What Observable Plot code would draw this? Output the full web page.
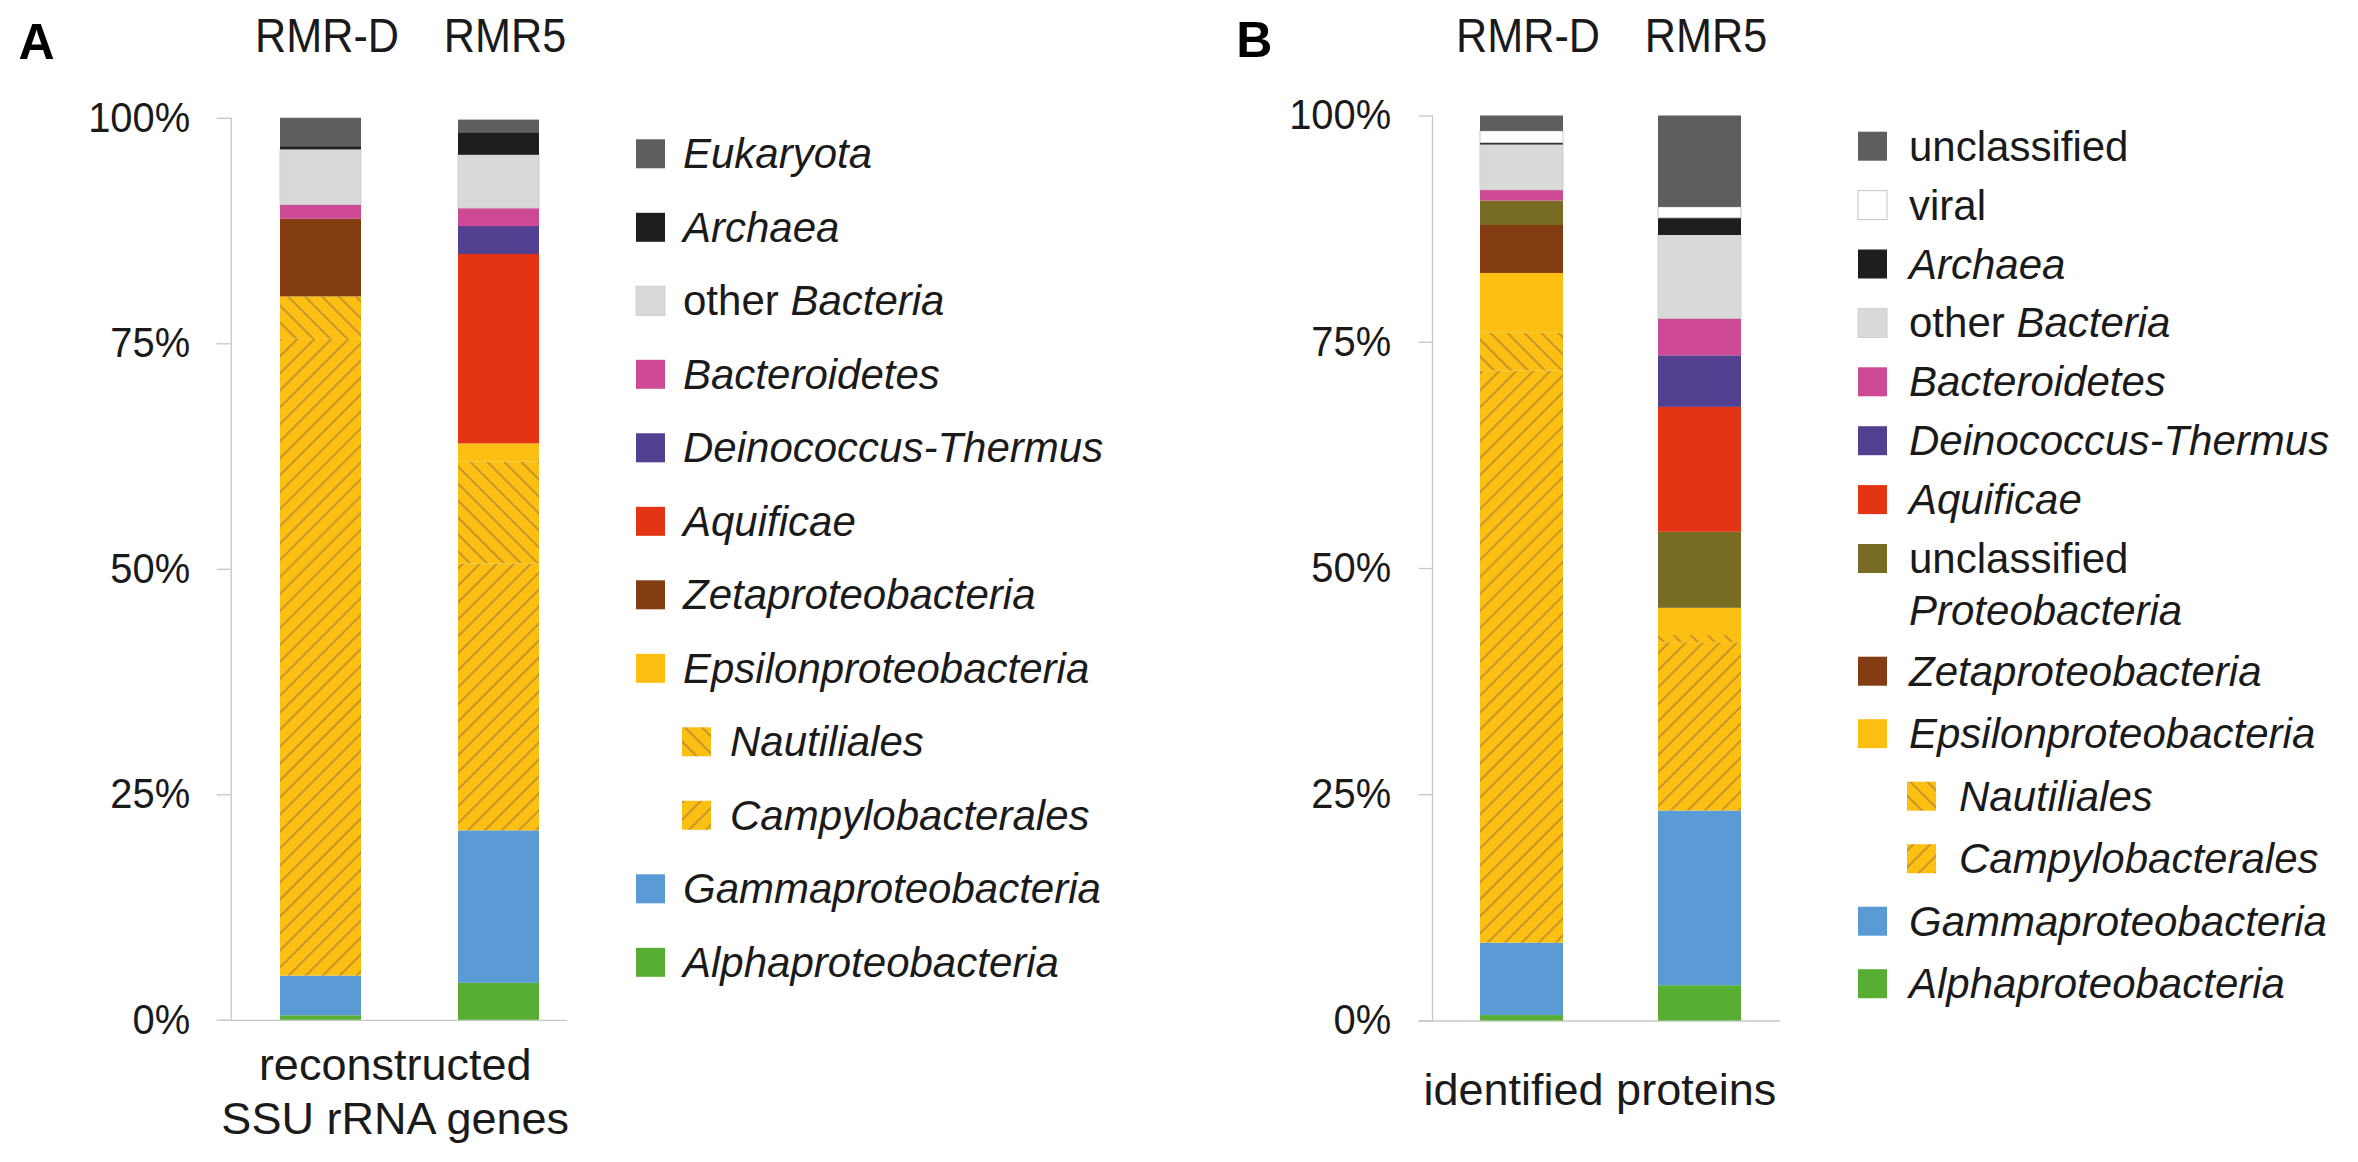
<!DOCTYPE html>
<html><head><meta charset="utf-8">
<script src="https://cdn.jsdelivr.net/npm/d3@7"></script>
<script src="https://cdn.jsdelivr.net/npm/@observablehq/plot@0.6"></script>
<style>
html,body{margin:0;padding:0;background:#fff;}
#root{position:relative;width:2358px;height:1162px;overflow:hidden;font-family:"Liberation Sans",Arial,sans-serif;}
#root > svg{position:absolute;top:0;}
</style></head><body><div id="root"></div>
<script>
// ---------------- data ----------------
const samples = ["RMR-D", "RMR5"];
// stack order, bottom -> top
const taxaA = ["Alphaproteobacteria","Gammaproteobacteria","Campylobacterales","Nautiliales","Epsilonproteobacteria","Zetaproteobacteria","Aquificae","Deinococcus-Thermus","Bacteroidetes","other Bacteria","Archaea","Eukaryota"];
const rmrdA = [0.5, 4.4, 70.6, 4.7, 0, 8.6, 0, 0, 1.6, 6.1, 0.35, 3.15];
const rmr5A = [4.1, 16.9, 29.6, 11.3, 2.0, 0, 21.0, 3.1, 2.0, 5.9, 2.5, 1.4];
const taxaB = ["Alphaproteobacteria","Gammaproteobacteria","Campylobacterales","Nautiliales","Epsilonproteobacteria","Zetaproteobacteria","unclassified Proteobacteria","Aquificae","Deinococcus-Thermus","Bacteroidetes","other Bacteria","Archaea","viral","unclassified"];
const rmrdB = [0.6, 8.0, 63.2, 4.2, 6.6, 5.3, 2.7, 0, 0, 1.2, 5.0, 0.2, 1.3, 1.7];
const rmr5B = [3.9, 19.3, 18.6, 0.8, 3.0, 0, 8.4, 13.8, 5.7, 4.1, 9.2, 1.9, 1.2, 10.1];
const yTicks = [0, 25, 50, 75, 100];
const xLabelA = "reconstructed\nSSU rRNA genes";
const xLabelB = "identified proteins";
// legend entries: [taxon, label (*italic*), indented]
const legendA = [
  ["Eukaryota","*Eukaryota*",0],["Archaea","*Archaea*",0],["other Bacteria","other *Bacteria*",0],
  ["Bacteroidetes","*Bacteroidetes*",0],["Deinococcus-Thermus","*Deinococcus-Thermus*",0],["Aquificae","*Aquificae*",0],
  ["Zetaproteobacteria","*Zetaproteobacteria*",0],["Epsilonproteobacteria","*Epsilonproteobacteria*",0],
  ["Nautiliales","*Nautiliales*",1],["Campylobacterales","*Campylobacterales*",1],
  ["Gammaproteobacteria","*Gammaproteobacteria*",0],["Alphaproteobacteria","*Alphaproteobacteria*",0]
];
const legendB = [
  ["unclassified","unclassified",0],["viral","viral",0],["Archaea","*Archaea*",0],["other Bacteria","other *Bacteria*",0],
  ["Bacteroidetes","*Bacteroidetes*",0],["Deinococcus-Thermus","*Deinococcus-Thermus*",0],["Aquificae","*Aquificae*",0],
  ["unclassified Proteobacteria","unclassified\n*Proteobacteria*",0],["Zetaproteobacteria","*Zetaproteobacteria*",0],
  ["Epsilonproteobacteria","*Epsilonproteobacteria*",0],["Nautiliales","*Nautiliales*",1],["Campylobacterales","*Campylobacterales*",1],
  ["Gammaproteobacteria","*Gammaproteobacteria*",0],["Alphaproteobacteria","*Alphaproteobacteria*",0]
];

// ---------------- styles ----------------
const fills = {
  "Eukaryota":"#5e5e5e","unclassified":"#5e5e5e","viral":"#ffffff","Archaea":"#1e1e1e",
  "other Bacteria":"#d9d9d9","Bacteroidetes":"#cf4a95","Deinococcus-Thermus":"#524190",
  "Aquificae":"#e33414","unclassified Proteobacteria":"#786b24","Zetaproteobacteria":"#843c12",
  "Epsilonproteobacteria":"#fcbf12","Nautiliales":"url(#hatch-naut)","Campylobacterales":"url(#hatch-campy)",
  "Gammaproteobacteria":"#5b9bd5","Alphaproteobacteria":"#58ae33"
};
const outlines = {"viral":"#c4c4c4","other Bacteria":"#cfcfcf"};
const FONT = "Liberation Sans, Arial, sans-serif";
const TEXT = "#1a1a1a";
const root = document.getElementById("root");

// hatch patterns (shared)
const defsSvg = d3.select(root).append("svg").attr("width",0).attr("height",0).style("left","0px");
const defs = defsSvg.append("defs");
[["hatch-campy",45],["hatch-naut",-45]].forEach(([id,rot]) => {
  const p = defs.append("pattern").attr("id",id).attr("patternUnits","userSpaceOnUse")
    .attr("width",12).attr("height",12).attr("patternTransform",`rotate(${rot})`);
  p.append("rect").attr("width",12).attr("height",12).attr("fill","#fcbf12");
  p.append("line").attr("x1",6).attr("x2",6).attr("y1",-1).attr("y2",13)
    .attr("stroke","#a78138").attr("stroke-width",1.3);
});

// horizontally condense the text of a group (narrow look of the original)
function condense(svg, selector, sx) {
  svg.querySelectorAll(selector).forEach(t => {
    const tr = t.getAttribute("transform") || "";
    t.setAttribute("transform", tr + ` scale(${sx},1)`);
  });
}

function panel(o) {
  const data = [];
  samples.forEach((s, i) => o.taxa.forEach((t, j) => data.push({sample: s, taxon: t, value: o.vals[i][j]})));
  const svg = Plot.plot({
    width: o.width, height: 1162,
    marginLeft: o.mL, marginRight: o.mR, marginTop: o.mT, marginBottom: o.mB,
    style: {fontFamily: FONT, color: TEXT, background: "transparent", overflow: "visible"},
    x: {domain: samples, paddingInner: o.pI, paddingOuter: o.pO, align: o.align, axis: null},
    y: {domain: [0, 100], axis: null},
    color: {type: "identity"},
    marks: [
      Plot.ruleY([0], {stroke: "#c6c6c6", strokeWidth: 1.3}),
      Plot.frame({anchor: "left", stroke: "#c6c6c6", strokeWidth: 1.3, dx: o.axisDx}),
      Plot.barY(data, {x: "sample", y: "value", z: "taxon",
        fill: d => fills[d.taxon], stroke: d => outlines[d.taxon] || "none", strokeWidth: 1}),
      Plot.axisY({ticks: yTicks, tickFormat: d => d + "%", tickSize: o.tickSize, tickPadding: o.tickPad,
        dx: o.axisDx, fontSize: 42, stroke: "#c6c6c6", strokeWidth: 1.3, label: null}),
      Plot.axisX({anchor: "top", tickSize: 0, tickPadding: o.headPad, fontSize: 48, dx: 6, label: null}),
      Plot.text([o.xLabel], {frameAnchor: "bottom", lineAnchor: "top", dy: o.xLabelDy, fontSize: 45, lineHeight: 1.2, fill: TEXT}),
      Plot.text([o.letter], {frameAnchor: "top-left", textAnchor: "start", lineAnchor: "bottom", ariaLabel: "letter",
        dx: o.letterDx, dy: o.letterDy, fontSize: 50, fontWeight: "bold", fill: "#000"})
    ]
  });
  condense(svg, 'g[aria-label="x-axis tick label"] text', 0.9);
  condense(svg, 'g[aria-label="y-axis tick label"] text', 0.95);
  condense(svg, 'g[aria-label="letter"] text', 0.85);
  svg.style.left = o.left + "px";
  root.appendChild(svg);
}

panel({taxa: taxaA, vals: [rmrdA, rmr5A], left: 0, width: 600,
  mL: 222.7, mR: 33.3, mT: 117.8, mB: 142.2, pI: 0.5437, pO: 0.236, align: 0.672,
  axisDx: 8, tickSize: 14, tickPad: 27, headPad: 66, xLabel: xLabelA, xLabelDy: 21,
  letter: "A", letterDx: -204.7, letterDy: -59.5});
panel({taxa: taxaB, vals: [rmrdB, rmr5B], left: 1200, width: 600,
  mL: 218.7, mR: 20, mT: 115.5, mB: 141.5, pI: 0.5365, pO: 0.283, align: 0.608,
  axisDx: 13.3, tickSize: 13.3, tickPad: 28, headPad: 64, xLabel: xLabelB, xLabelDy: 45.5,
  letter: "B", letterDx: -183, letterDy: -58.8});

// ---------------- legends ----------------
const lg = d3.select(root).append("svg").attr("width", 2358).attr("height", 1162).style("left", "0px")
  .style("font-family", FONT).style("font-size", "42px").attr("fill", TEXT);
function addLabel(g, x, y, label, lineGap) {
  label.split("\n").forEach((line, li) => {
    const t = g.append("text").attr("x", x).attr("y", y + li * lineGap);
    line.split("*").forEach((part, k) => { if (part) t.append("tspan").attr("font-style", k % 2 ? "italic" : "normal").text(part); });
  });
}
function legend(entries, tops, sx, tx, indent) {
  entries.forEach(([taxon, label, ind], i) => {
    const x = sx + (ind ? indent : 0);
    lg.append("rect").attr("x", x).attr("y", tops[i]).attr("width", 29).attr("height", 29)
      .attr("fill", fills[taxon]).attr("stroke", outlines[taxon] || "none").attr("stroke-width", 1);
    addLabel(lg, tx + (ind ? indent + 1 : 0), tops[i] + 29, label, 52);
  });
}
const topsA = legendA.map((_, i) => 139.3 + 73.5 * i);
const topsB = legendB.map((_, i) => i <= 7 ? 131.7 + 58.9 * i : 656.7 + 62.5 * (i - 8));
legend(legendA, topsA, 636, 683, 46);
legend(legendB, topsB, 1858, 1909, 49);
</script></body></html>
